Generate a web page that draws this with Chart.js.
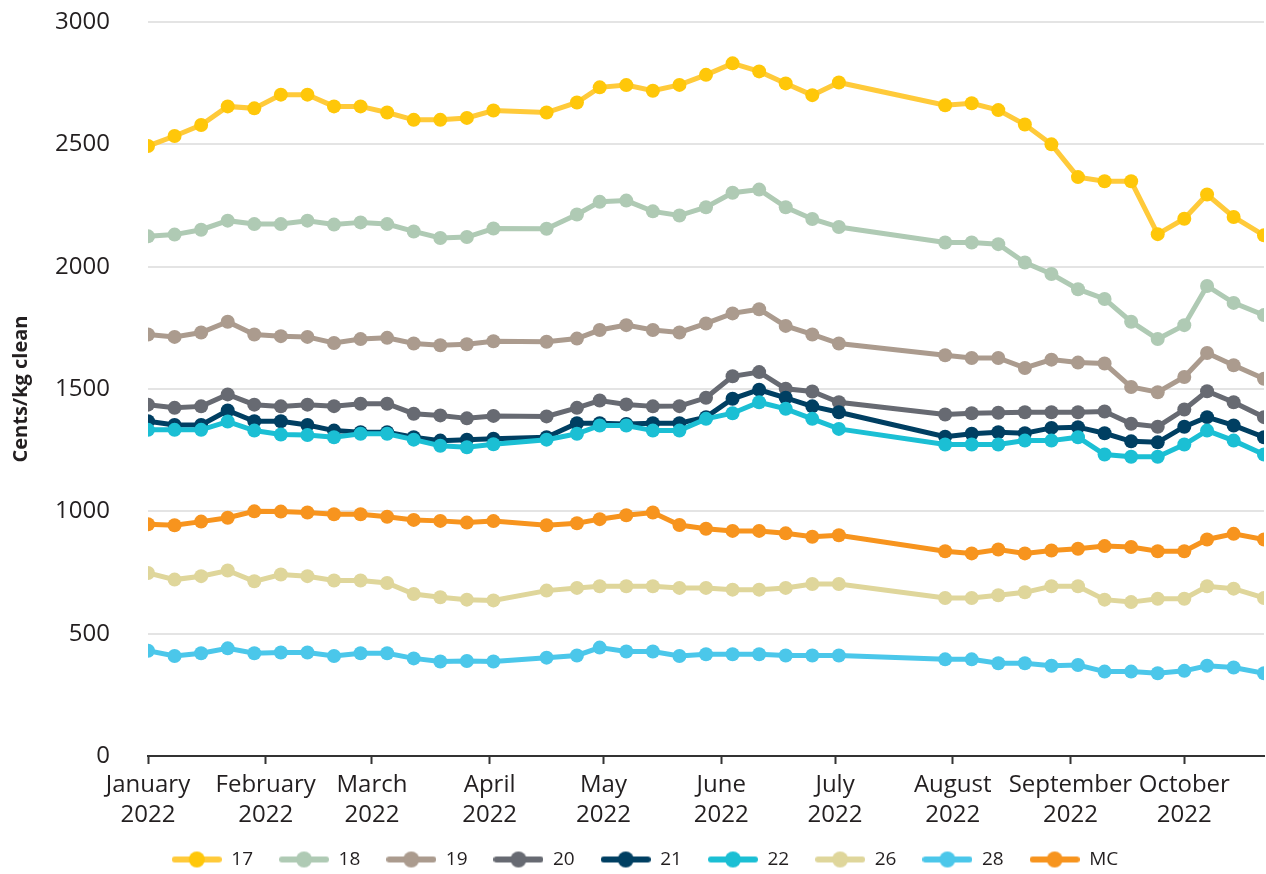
<!DOCTYPE html>
<html>
<head>
<meta charset="utf-8">
<script src="https://cdn.jsdelivr.net/npm/chart.js@4"></script>
<style>
  body { margin: 0; background: #fff; }
  #wrap { width: 1266px; height: 874px; }
</style>
</head>
<body>
<div id="wrap"><canvas id="woolChart"></canvas></div>
<script>
// sale day (days since 1 Jan 2022)
const saleDays = [0, 7, 14, 21, 28, 35, 42, 49, 56, 63, 70, 77, 84, 91,
    105, 113, 119, 126, 133, 140, 147, 154, 161, 168, 175, 182,
    210, 217, 224, 231, 238, 245, 252, 259, 266, 273, 279, 286, 294];

const monthDays = [0, 31, 59, 90, 120, 151, 181, 212, 243, 273];
const monthNames = ['January', 'February', 'March', 'April', 'May', 'June',
    'July', 'August', 'September', 'October'];
const yTicks = [0, 500, 1000, 1500, 2000, 2500, 3000];

const seriesNames = ['17', '18', '19', '20', '21', '22', '26', '28', 'MC'];

const s17 = [2493, 2534, 2579, 2655, 2647, 2703, 2703, 2655, 2655, 2630, 2600, 2600, 2608, 2638,
    2630, 2671, 2733, 2742, 2719, 2743, 2784, 2831, 2798, 2749, 2701, 2753,
    2660, 2668, 2640, 2581, 2500, 2366, 2349, 2349, 2133, 2196, 2295, 2203, 2128];
const s18 = [2124, 2131, 2151, 2188, 2174, 2174, 2188, 2172, 2181, 2174, 2144, 2117, 2121, 2156,
    2155, 2213, 2265, 2270, 2226, 2209, 2243, 2302, 2315, 2243, 2195, 2162,
    2099, 2099, 2092, 2017, 1970, 1908, 1868, 1775, 1704, 1761, 1921, 1852, 1802];
const s19 = [1723, 1713, 1731, 1775, 1723, 1716, 1713, 1688, 1704, 1709, 1686, 1679, 1683, 1695,
    1693, 1706, 1741, 1761, 1741, 1731, 1768, 1809, 1826, 1758, 1723, 1686,
    1638, 1627, 1627, 1586, 1620, 1608, 1604, 1508, 1487, 1549, 1647, 1597, 1542];
const s20 = [1436, 1423, 1429, 1478, 1436, 1429, 1436, 1430, 1440, 1440, 1399, 1392, 1380, 1390,
    1388, 1423, 1453, 1437, 1429, 1430, 1464, 1552, 1569, 1501, 1490, 1446,
    1396, 1401, 1403, 1405, 1405, 1405, 1408, 1358, 1346, 1416, 1491, 1446, 1385];
const s21 = [1368, 1353, 1353, 1412, 1368, 1368, 1353, 1330, 1323, 1323, 1303, 1289, 1293, 1297,
    1303, 1360, 1360, 1357, 1360, 1360, 1385, 1460, 1497, 1464, 1429, 1405,
    1305, 1317, 1323, 1319, 1341, 1344, 1319, 1286, 1282, 1346, 1385, 1351, 1303];
const s22 = [1333, 1333, 1333, 1367, 1330, 1314, 1312, 1303, 1317, 1317, 1293, 1268, 1262, 1274,
    1293, 1317, 1351, 1351, 1330, 1330, 1378, 1401, 1446, 1419, 1378, 1337,
    1273, 1273, 1273, 1289, 1289, 1303, 1232, 1223, 1223, 1273, 1330, 1289, 1232];
const s26 = [748, 721, 735, 758, 714, 742, 735, 717, 717, 707, 662, 649, 639, 636,
    676, 687, 694, 694, 694, 687, 687, 680, 680, 687, 703, 703,
    646, 646, 657, 669, 694, 694, 639, 629, 643, 643, 694, 684, 646];
const s28 = [430, 409, 420, 440, 420, 423, 423, 409, 420, 420, 399, 386, 388, 386,
    402, 411, 443, 427, 427, 409, 416, 416, 416, 411, 411, 411,
    395, 395, 379, 379, 369, 372, 345, 345, 338, 348, 369, 362, 338];
const sMC = [947, 943, 958, 974, 1000, 999, 995, 988, 988, 978, 965, 961, 954, 960,
    943, 951, 968, 984, 995, 944, 929, 920, 920, 910, 896, 902,
    837, 828, 844, 828, 840, 847, 858, 854, 837, 837, 885, 908, 885];

const seriesValues = [s17, s18, s19, s20, s21, s22, s26, s28, sMC];
const lineColors = ['#ffca3a', '#afcab4', '#ab9b8e', '#676a72', '#003f62', '#1bbfd4', '#dfd69b', '#4bc7ea', '#f7941e'];
const dotColors = ['#ffc709', '#afcab4', '#ab9b8e', '#676a72', '#003f62', '#1bbfd4', '#dfd69b', '#4bc7ea', '#f7941e'];

const FONT = "'Open Sans', sans-serif";
const TEXT = '#231f20';

// little line-with-dot swatch for the legend
const makeSwatch = (line, dot) => {
    const c = document.createElement('canvas');
    c.width = 50;
    c.height = 18;
    const g = c.getContext('2d');
    g.strokeStyle = line;
    g.lineWidth = 6;
    g.lineCap = 'round';
    g.beginPath();
    g.moveTo(3, 9);
    g.lineTo(47, 9);
    g.stroke();
    g.fillStyle = dot;
    g.beginPath();
    g.arc(25, 9, 8, 0, Math.PI * 2);
    g.fill();
    return c;
};

const datasets = seriesNames.map((name, i) => ({
    label: name,
    data: seriesValues[i].map((v, k) => ({ x: saleDays[k], y: v })),
    borderColor: lineColors[i],
    backgroundColor: dotColors[i],
    pointBackgroundColor: dotColors[i],
    pointBorderWidth: 0,
    pointRadius: 7,
    borderWidth: 5,
    tension: 0,
    order: seriesNames.length - i
}));

new Chart(document.getElementById('woolChart').getContext('2d'), {
    type: 'line',
    data: { datasets: datasets },
    options: {
        responsive: true,
        maintainAspectRatio: false,
        animation: false,
        layout: { autoPadding: false, padding: { top: 22, right: 2, left: 26, bottom: -5 } },
        plugins: {
            tooltip: { enabled: false },
            legend: {
                position: 'bottom',
                labels: {
                    usePointStyle: true,
                    pointStyleWidth: 50,
                    padding: 26,
                    color: TEXT,
                    font: { family: FONT, size: 19 },
                    generateLabels: (chart) => chart.data.datasets.map((ds, i) => ({
                        text: ds.label,
                        pointStyle: makeSwatch(lineColors[i], dotColors[i]),
                        fillStyle: dotColors[i],
                        strokeStyle: lineColors[i],
                        lineWidth: 0,
                        fontColor: TEXT,
                        hidden: false,
                        datasetIndex: i
                    }))
                }
            }
        },
        scales: {
            x: {
                type: 'linear',
                min: 0,
                max: 294,
                afterBuildTicks: (scale) => {
                    scale.ticks = monthDays.map(v => ({ value: v }));
                },
                afterFit: (scale) => {
                    scale.height = 68;
                    scale.paddingLeft = 0;
                    scale.paddingRight = 0;
                },
                grid: {
                    drawOnChartArea: false,
                    drawTicks: true,
                    tickLength: 8,
                    tickWidth: 2,
                    tickColor: '#333333'
                },
                border: { display: true, color: '#333333', width: 2 },
                ticks: {
                    autoSkip: false,
                    maxRotation: 0,
                    padding: 6,
                    color: TEXT,
                    font: { family: FONT, size: 24, lineHeight: 1.25 },
                    callback: (value) => {
                        const idx = monthDays.indexOf(value);
                        return idx < 0 ? '' : [monthNames[idx], '2022'];
                    }
                }
            },
            y: {
                min: 0,
                max: 3000,
                afterBuildTicks: (scale) => {
                    scale.ticks = yTicks.map(v => ({ value: v }));
                },
                afterFit: (scale) => {
                    scale.width = 122;
                    scale.paddingTop = 0;
                    scale.paddingBottom = 0;
                },
                grid: { color: '#e4e4e4', lineWidth: 2, drawTicks: false },
                border: { display: false },
                ticks: {
                    padding: 38,
                    color: TEXT,
                    font: { family: FONT, size: 24 },
                    callback: (value) => String(value)
                },
                title: {
                    display: true,
                    text: 'Cents/kg clean',
                    color: TEXT,
                    padding: { top: -17, bottom: 4 },
                    font: { family: FONT, size: 20, weight: 'bold' }
                }
            }
        }
    }
});
</script>
</body>
</html>
